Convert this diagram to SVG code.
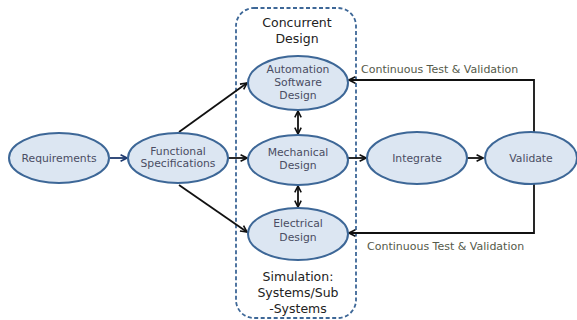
<svg xmlns="http://www.w3.org/2000/svg" width="577" height="320" viewBox="0 0 577 320">
<defs>
<marker id="ah" viewBox="0 0 10 10" refX="9" refY="5" markerWidth="8" markerHeight="8" markerUnits="userSpaceOnUse" orient="auto-start-reverse">
<path d="M1,1 L9,5 L1,9" fill="none" stroke="#111" stroke-width="2"/>
</marker>
<marker id="ahb" viewBox="0 0 10 10" refX="9" refY="5" markerWidth="8" markerHeight="8" markerUnits="userSpaceOnUse" orient="auto">
<path d="M1,1 L9,5 L1,9" fill="none" stroke="#1f3a6e" stroke-width="2"/>
</marker>
</defs>
<style>
.n{fill:#dce6f2;stroke:#3d6797;stroke-width:2}
.t{font-family:"DejaVu Sans",Verdana,sans-serif;font-size:10.8px;fill:#4a4d63;text-anchor:middle}
.h{font-family:"DejaVu Sans",Verdana,sans-serif;font-size:12.5px;fill:#222;text-anchor:middle}
.l{font-family:"DejaVu Sans",Verdana,sans-serif;font-size:11px;fill:#555a4a}
.c{fill:none;stroke:#111;stroke-width:1.8}
</style>
<rect id="container" x="236" y="8" width="120" height="310" rx="18" fill="none" stroke="#3d6797" stroke-width="1.8" stroke-dasharray="4,2.5"/>
<text class="h" x="297" y="27">Concurrent</text>
<text class="h" x="297" y="43">Design</text>
<text class="h" x="298" y="281">Simulation:</text>
<text class="h" x="298" y="297">Systems/Sub</text>
<text class="h" x="298" y="313">-Systems</text>
<g id="connectors">
<line x1="110" y1="158" x2="127" y2="158" stroke="#1f3a6e" stroke-width="1.8" marker-end="url(#ahb)"/>
<line class="c" x1="228" y1="158" x2="247" y2="158" marker-end="url(#ah)"/>
<line class="c" x1="179" y1="132" x2="247" y2="83" marker-end="url(#ah)"/>
<line class="c" x1="179" y1="185" x2="247" y2="232" marker-end="url(#ah)"/>
<line class="c" x1="298" y1="111" x2="298" y2="134" stroke-width="3" marker-start="url(#ah)" marker-end="url(#ah)"/>
<line class="c" x1="298" y1="186" x2="298" y2="207" stroke-width="3" marker-start="url(#ah)" marker-end="url(#ah)"/>
<line class="c" x1="348" y1="158" x2="366" y2="158" marker-end="url(#ah)"/>
<line class="c" x1="467" y1="158" x2="483" y2="158" marker-end="url(#ah)"/>
<polyline class="c" points="534,132 534,80 349,80" marker-end="url(#ah)"/>
<polyline class="c" points="534,184 534,233 349,233" marker-end="url(#ah)"/>
<text class="l" x="361" y="73">Continuous Test &amp; Validation</text>
<text class="l" x="367" y="250">Continuous Test &amp; Validation</text>
</g>
<g id="requirements">
<ellipse class="n" cx="59" cy="158" rx="50" ry="25"/>
<text class="t" x="59" y="162">Requirements</text>
</g>
<g id="functional">
<ellipse class="n" cx="178" cy="158" rx="50" ry="25"/>
<text class="t" x="178" y="155">Functional</text>
<text class="t" x="178" y="167">Specifications</text>
</g>
<g id="automation">
<ellipse class="n" cx="298" cy="83" rx="50" ry="27"/>
<text class="t" x="298" y="73">Automation</text>
<text class="t" x="298" y="86">Software</text>
<text class="t" x="298" y="99">Design</text>
</g>
<g id="mechanical">
<ellipse class="n" cx="298" cy="160" rx="50" ry="25"/>
<text class="t" x="298" y="156">Mechanical</text>
<text class="t" x="298" y="169">Design</text>
</g>
<g id="electrical">
<ellipse class="n" cx="298" cy="234" rx="50" ry="26"/>
<text class="t" x="298" y="227">Electrical</text>
<text class="t" x="298" y="241">Design</text>
</g>
<g id="integrate">
<ellipse class="n" cx="417" cy="158" rx="50" ry="26"/>
<text class="t" x="417" y="162">Integrate</text>
</g>
<g id="validate">
<ellipse class="n" cx="531" cy="158" rx="46" ry="26"/>
<text class="t" x="531" y="162">Validate</text>
</g>
</svg>
